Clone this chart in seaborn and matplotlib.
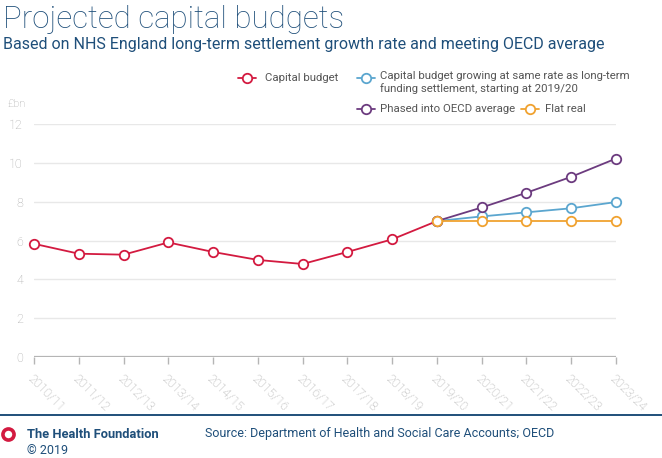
import numpy as np
import pandas as pd
import matplotlib
matplotlib.use("Agg")
import matplotlib.pyplot as plt
from matplotlib.lines import Line2D
import seaborn as sns

periods = ["2010/11", "2011/12", "2012/13", "2013/14", "2014/15", "2015/16", "2016/17",
           "2017/18", "2018/19", "2019/20", "2020/21", "2021/22", "2022/23", "2023/24"]
capital_budget = [5.83, 5.32, 5.27, 5.90, 5.41, 5.00, 4.79, 5.41, 6.06, 7.00]
settlement_rate = [7.00, 7.24, 7.45, 7.66, 7.98]
oecd_phased = [7.00, 7.70, 8.46, 9.28, 10.22]
flat_real = [7.00, 7.00, 7.00, 7.00, 7.00]

series_names = ["Capital budget",
                "Capital budget growing at same rate as long-term\nfunding settlement, starting at 2019/20",
                "Phased into OECD average", "Flat real"]
colors = ["#d31a40", "#5ba6cf", "#6c3b7f", "#f0a230"]

NAVY = "#1f4f7a"
GREY = "#a9a9a9"

sns.set_style("white")
plt.rcParams["font.family"] = ["Roboto", "DejaVu Sans"]

start = periods.index("2019/20")
frames = [
    pd.DataFrame({"idx": np.arange(len(capital_budget)), "value": capital_budget}),
    pd.DataFrame({"idx": np.arange(start, start + len(settlement_rate)), "value": settlement_rate}),
    pd.DataFrame({"idx": np.arange(start, start + len(oecd_phased)), "value": oecd_phased}),
    pd.DataFrame({"idx": np.arange(start, start + len(flat_real)), "value": flat_real}),
]

fig = plt.figure(figsize=(6.62, 4.58), dpi=100)
W, H = 662, 458
ax = fig.add_axes([34 / W, (H - 357) / H, (616 - 34) / W, (357 - 124) / H])

for y in [2, 4, 6, 8, 10, 12]:
    ax.axhline(y, color="#e8e8e8", lw=1, zorder=0)
ax.axhline(0, color="#b5b5b5", lw=1.6, zorder=1)

mk = dict(marker="o", markersize=6.8, markerfacecolor="white", markeredgewidth=1.3, linewidth=1.3)
for i in [0, 2, 1, 3]:
    sns.lineplot(data=frames[i], x="idx", y="value", color=colors[i], markeredgecolor=colors[i],
                 ax=ax, clip_on=False, zorder=3 + i, **mk)

ax.set_xlim(0, len(periods) - 1)
ax.set_ylim(0, 12)
ax.set_xticks(range(len(periods)))
ax.set_xticklabels(periods, rotation=-45, ha="left", va="top", rotation_mode="anchor",
                   fontsize=9, color=GREY, fontweight="light")
ax.set_yticks([0, 2, 4, 6, 8, 10, 12])
ax.set_yticklabels(["0", "2", "4", "6", "8", "10", "12"], fontsize=9, color=GREY, fontweight="light")
ax.tick_params(axis="x", length=5, color="#b5b5b5", width=1, pad=6, direction="out", bottom=True)
ax.tick_params(axis="y", length=0, pad=8)
ax.set_xlabel("")
ax.set_ylabel("")
for s in ax.spines.values():
    s.set_visible(False)
fig.text(7 / W, 1 - 104 / H, "£bn", fontsize=8, color=GREY, fontweight="light", va="center")

# titles
fig.text(3 / W, 1 - 19 / H, "Projected capital budgets", fontsize=22.5, color=NAVY,
         fontweight="light", va="center")
fig.text(3 / W, 1 - 45 / H,
         "Based on NHS England long-term settlement growth rate and meeting OECD average",
         fontsize=11.5, color=NAVY, va="center")

# legend
def legend_item(xm, ym, color, label, xt):
    fig.add_artist(Line2D([(xm - 9) / W, (xm + 9) / W], [1 - ym / H, 1 - ym / H], color=color,
                          lw=1.3, marker=None, transform=fig.transFigure))
    fig.add_artist(Line2D([xm / W], [1 - ym / H], color=color, marker="o", markersize=6.8,
                          markerfacecolor="white", markeredgewidth=1.3, transform=fig.transFigure))
    fig.text(xt / W, 1 - ym / H, label, fontsize=8.2, color="#555555",
             va="center" if "\n" not in label else "top", linespacing=1.25)

legend_item(247, 78, colors[0], series_names[0], 265)
legend_item(366, 78, colors[1], series_names[1], 380)
fig.texts[-1].set_position((380 / W, 1 - 71 / H))
legend_item(366, 109, colors[2], series_names[2], 380)
legend_item(530, 109, colors[3], series_names[3], 545)

# footer
fig.add_artist(Line2D([0, 1], [1 - 415 / H, 1 - 415 / H], color=NAVY, lw=1.4,
                      transform=fig.transFigure))
fig.add_artist(Line2D([8 / W], [1 - 434 / H], marker="o", markersize=8, markerfacecolor="white",
                      markeredgecolor="#d31a40", markeredgewidth=2.6, transform=fig.transFigure))
fig.text(27 / W, 1 - 434 / H, "The Health Foundation", fontsize=9.3, fontweight="bold",
         color=NAVY, va="center")
fig.text(27 / W, 1 - 450 / H, "© 2019", fontsize=9, color=NAVY, va="center")
fig.text(205 / W, 1 - 434 / H, "Source: Department of Health and Social Care Accounts; OECD",
         fontsize=9, color=NAVY, va="center")

fig.savefig("out.png", dpi=100)
plt.close()
